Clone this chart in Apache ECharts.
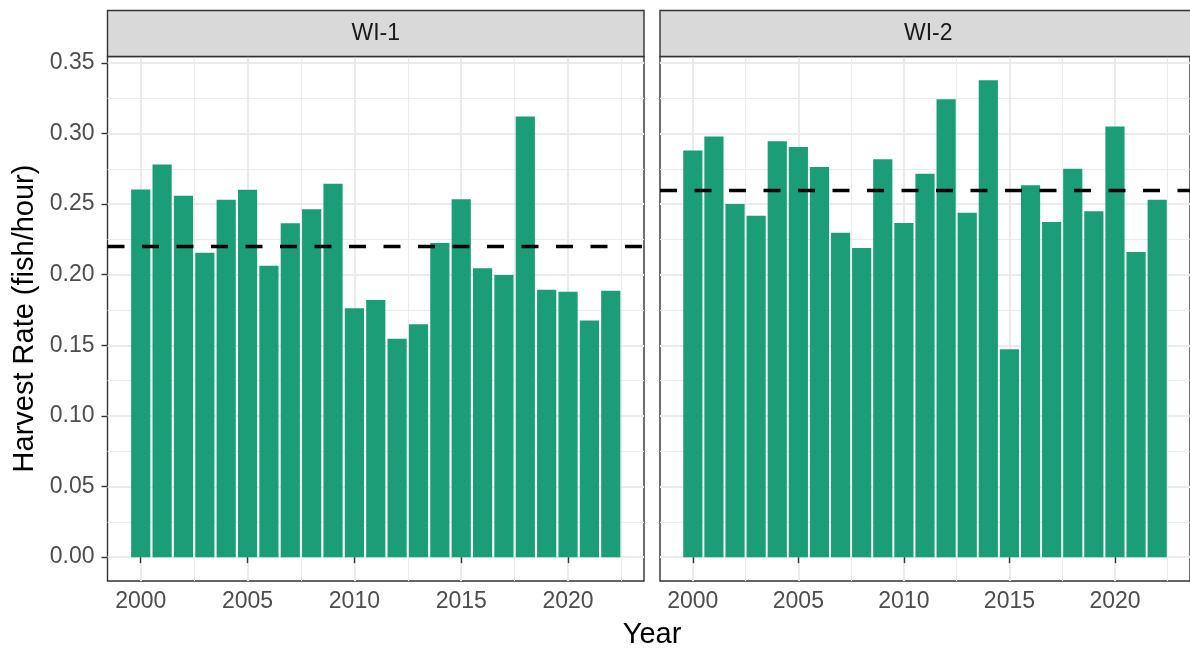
<!DOCTYPE html>
<html>
<head>
<meta charset="utf-8">
<script src="https://cdn.jsdelivr.net/npm/echarts@6/dist/echarts.min.js"></script>
<style>
html,body{margin:0;padding:0;background:#fff;}
#chart{width:1190px;height:653px;}
</style>
</head>
<body>
<div id="chart"></div>
<script>
// ---- data ----
const years = [2000,2001,2002,2003,2004,2005,2006,2007,2008,2009,2010,2011,2012,2013,2014,2015,2016,2017,2018,2019,2020,2021,2022];
const panels = ['WI-1', 'WI-2'];
const wi1 = [0.2604,0.2781,0.2559,0.2156,0.2531,0.2602,0.2064,0.2364,0.2463,0.2644,0.1762,0.1821,0.1547,0.1649,0.2224,0.2534,0.2045,0.1998,0.3121,0.1894,0.1880,0.1675,0.1887];
const wi2 = [0.2880,0.2979,0.2500,0.2418,0.2944,0.2904,0.2762,0.2297,0.2189,0.2817,0.2366,0.2715,0.3243,0.2439,0.3376,0.1472,0.2633,0.2373,0.2750,0.2449,0.3050,0.2161,0.2531];
const xTicks = [2000,2005,2010,2015,2020];
const xMinor = [2002.5,2007.5,2012.5,2017.5,2022.5];
const yTicks = [0,0.05,0.10,0.15,0.20,0.25,0.30,0.35];
const yMinor = [0.025,0.075,0.125,0.175,0.225,0.275,0.325];

// ---- layout / style ----
const FONT = "'Liberation Sans', Arial, sans-serif";
const xMin = 1998.445, xMax = 2023.555;
const yMin = -0.0169, yMax = 0.3545;
const grids = [
  {left: 107.5, top: 56.5, width: 536.5, height: 524.5},
  {left: 660, top: 56.5, width: 536.5, height: 524.5}
];
const mean = a => a.reduce((s, v) => s + v, 0) / a.length;
const seriesData = [wi1, wi2];

const option = {
  backgroundColor: '#ffffff',
  animation: false,
  grid: grids.map(g => Object.assign({show: true, borderColor: '#333333', borderWidth: 1.4, backgroundColor: '#ffffff', containLabel: false}, g)),
  xAxis: [],
  yAxis: [],
  series: [],
  graphic: []
};

grids.forEach((g, i) => {
  option.xAxis.push({
    type: 'value', gridIndex: i, min: xMin, max: xMax,
    axisLine: {show: false},
    axisTick: {show: true, customValues: xTicks, length: 6, lineStyle: {color: '#333333', width: 1.4}},
    axisLabel: {show: true, customValues: xTicks, color: '#4D4D4D', fontSize: 23, fontFamily: FONT, margin: 9, formatter: v => String(Math.round(v))},
    splitLine: {show: true, lineStyle: {color: '#EBEBEB', width: 2}}
  });
  option.xAxis.push({
    type: 'value', gridIndex: i, min: xMin, max: xMax,
    axisLine: {show: false},
    axisTick: {show: false, customValues: xMinor},
    axisLabel: {show: false, customValues: xMinor},
    splitLine: {show: true, lineStyle: {color: '#EBEBEB', width: 1}}
  });
  option.yAxis.push({
    type: 'value', gridIndex: i, min: yMin, max: yMax,
    axisLine: {show: false},
    axisTick: {show: i === 0, customValues: yTicks, length: 6, lineStyle: {color: '#333333', width: 1.4}},
    axisLabel: {show: i === 0, customValues: yTicks, color: '#4D4D4D', fontSize: 23, fontFamily: FONT, margin: 13, formatter: v => v.toFixed(2)},
    splitLine: {show: true, lineStyle: {color: '#EBEBEB', width: 2}}
  });
  option.yAxis.push({
    type: 'value', gridIndex: i, min: yMin, max: yMax,
    axisLine: {show: false},
    axisTick: {show: false, customValues: yMinor},
    axisLabel: {show: false, customValues: yMinor},
    splitLine: {show: true, lineStyle: {color: '#EBEBEB', width: 1}}
  });

  const d = seriesData[i];
  option.series.push({
    type: 'bar',
    xAxisIndex: i * 2, yAxisIndex: i * 2,
    data: years.map((y, k) => [y, d[k]]),
    barWidth: 19.2,
    itemStyle: {color: '#1B9E77'},
    silent: true,
    markLine: {
      silent: true,
      symbol: ['none', 'none'],
      label: {show: false},
      lineStyle: {color: '#000000', width: 3.3, type: [17, 17.5], opacity: 1},
      emphasis: {disabled: true},
      data: [{yAxis: mean(d)}]
    }
  });

  option.graphic.push({
    type: 'rect', z: 10,
    shape: {x: g.left, y: 10.5, width: g.width, height: 46},
    style: {fill: '#D9D9D9', stroke: '#333333', lineWidth: 1.4}
  });
  option.graphic.push({
    type: 'text', z: 11,
    x: g.left + g.width / 2, y: 33.5,
    style: {text: panels[i], fill: '#1A1A1A', font: '23px ' + FONT, textAlign: 'center', textVerticalAlign: 'middle'}
  });
});

option.graphic.push({
  type: 'text', z: 11, x: 652, y: 635,
  style: {text: 'Year', fill: '#000000', font: '29px ' + FONT, textAlign: 'center', textVerticalAlign: 'middle'}
});
option.graphic.push({
  type: 'text', z: 11, x: 25, y: 318.5, rotation: Math.PI / 2,
  style: {text: 'Harvest Rate (fish/hour)', fill: '#000000', font: '29px ' + FONT, textAlign: 'center', textVerticalAlign: 'middle'}
});

const chart = echarts.init(document.getElementById('chart'), null, {renderer: 'canvas'});
chart.setOption(option);
</script>
</body>
</html>
